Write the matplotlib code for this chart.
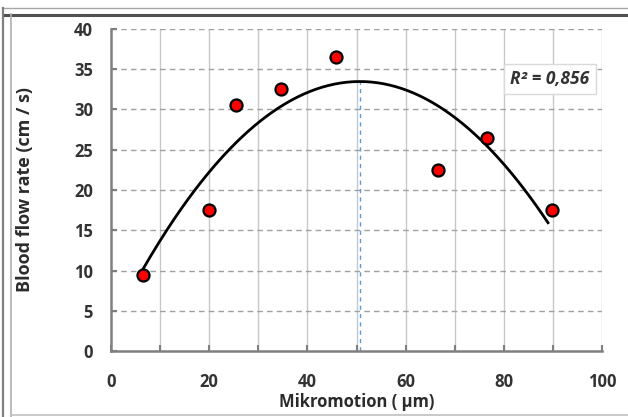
import numpy as np
import matplotlib
matplotlib.use("Agg")
import matplotlib.pyplot as plt
from matplotlib.lines import Line2D

# measured points
micromotion = [6.5, 20, 25.5, 34.7, 45.8, 66.6, 76.6, 89.8]
flow_rate = [9.5, 17.5, 30.5, 32.5, 36.5, 22.5, 26.5, 17.5]
r2_label = "R² = 0,856"

x_ticks = [0, 20, 40, 60, 80, 100]
y_ticks = [0, 5, 10, 15, 20, 25, 30, 35, 40]

plt.rcParams['font.family'] = ['Open Sans', 'DejaVu Sans']

W, H = 628, 417
fig = plt.figure(figsize=(W / 100, H / 100), dpi=100)


def frame_line(x0, y0, x1, y1, color, lw):
    # pixel coords (from top-left) -> figure fraction
    fig.add_artist(Line2D([x0 / W, x1 / W], [1 - y0 / H, 1 - y1 / H],
                          transform=fig.transFigure, color=color, lw=lw))


# picture border
frame_line(2, 8, W, 8, "#a6a6a6", 1.0)
frame_line(3.5, 8, 3.5, H, "#808080", 1.6)
frame_line(5, 14.5, W, 14.5, "#505050", 2.2)
frame_line(11, 14, 11, H, "#b0b0b0", 1.2)
frame_line(11, 415, W, 415, "#c0c0c0", 1.2)

ax = fig.add_axes([111 / W, 1 - 351 / H, 491 / W, 322 / H])

# grid: solid vertical every 10, dashed horizontal every 5
for gx in range(10, 101, 10):
    ax.axvline(gx, color="#c8c8c8", lw=1.0, zorder=0)
for gy in y_ticks[1:]:
    ax.axhline(gy, color="#a0a0a0", lw=1.0, ls=(0, (4, 3)), zorder=0)

# quadratic trend line
coef = np.polyfit(micromotion, flow_rate, 2)
xs = np.linspace(min(micromotion), 89, 200)
ax.plot(xs, np.polyval(coef, xs), color="black", lw=2, zorder=2)

# vertex line
xv = -coef[1] / (2 * coef[0])
yv = np.polyval(coef, xv)
ax.plot([xv, xv], [0, yv], color="#5b9bd5", lw=1.0, ls=(0, (3, 3)), zorder=1)

ax.scatter(micromotion, flow_rate, s=75, c="red", edgecolors="black",
           linewidths=1.6, zorder=3)

ax.text(89.4, 33.8, r2_label, ha="center", va="center", fontsize=12.5,
        fontweight="bold", style="italic", color="#333333",
        bbox=dict(boxstyle="square,pad=0.35", fc="white", ec="#d9d9d9", lw=1))

ax.set_xlim(0, 100)
ax.set_ylim(0, 40)
ax.set_xticks(x_ticks)
ax.set_yticks(y_ticks)
ax.set_xticks(range(0, 101, 10), minor=True)
for s in ["top", "right"]:
    ax.spines[s].set_visible(False)
for s in ["left", "bottom"]:
    ax.spines[s].set_color("#7f7f7f")
    ax.spines[s].set_linewidth(1.8)
ax.tick_params(axis="both", which="both", direction="in", length=4,
               color="#7f7f7f", width=1.5, labelsize=12, labelcolor="#333333")
ax.tick_params(axis="x", which="both", pad=16)
ax.tick_params(axis="y", pad=13)
ax.tick_params(axis="x", which="minor", labelbottom=False)
for lab in ax.get_xticklabels() + ax.get_yticklabels():
    lab.set_fontweight("bold")

ax.set_xlabel("Mikromotion ( µm)", fontsize=12, fontweight="bold", color="#2b2b2b", va="center")
ax.set_ylabel("Blood flow rate (cm / s)", fontsize=13, fontweight="bold", color="#2b2b2b", va="center")
ax.xaxis.set_label_coords(0.5, (351 - 402) / 322)
ax.yaxis.set_label_coords((25 - 111) / 491, 0.5)

fig.savefig("out.png", dpi=100)
